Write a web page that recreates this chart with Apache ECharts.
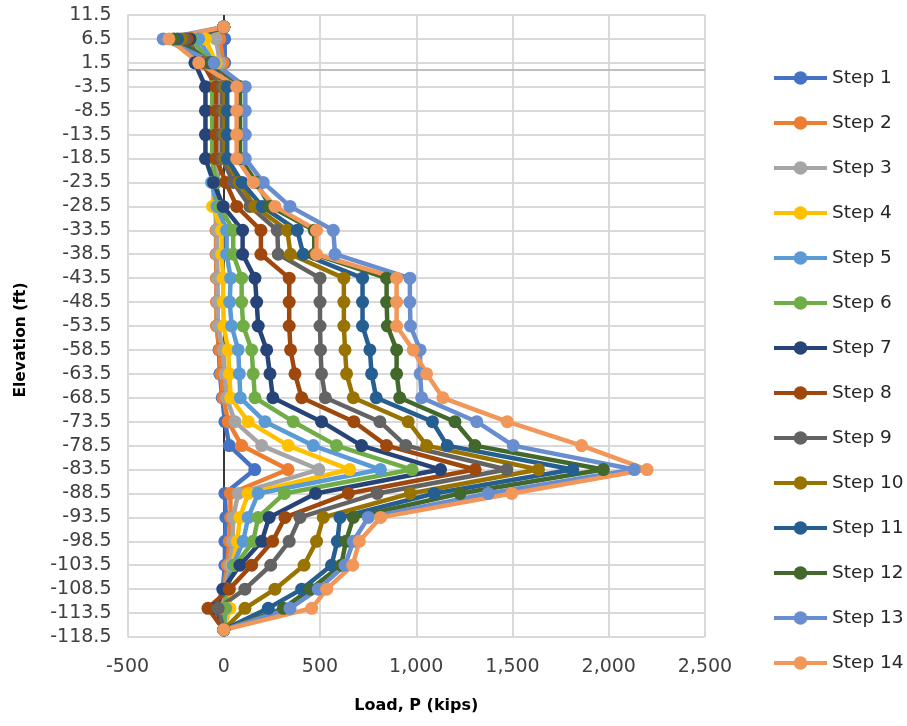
<!DOCTYPE html>
<html><head><meta charset="utf-8">
<script src="https://cdn.jsdelivr.net/npm/echarts@6/dist/echarts.min.js"></script>
<style>html,body{margin:0;padding:0;background:#fff}#c{width:907px;height:726px}</style>
</head><body><div id="c"></div>
<script>
// Elevations (ft) of the data points, top to bottom
const elevations = [9, 6.5, 1.5, -3.5, -8.5, -13.5, -18.5, -23.5, -28.5, -33.5, -38.5, -43.5, -48.5, -53.5, -58.5, -63.5, -68.5, -73.5, -78.5, -83.5, -88.5, -93.5, -98.5, -103.5, -108.5, -112.5, -117];

const stepNames = ['Step 1','Step 2','Step 3','Step 4','Step 5','Step 6','Step 7','Step 8','Step 9','Step 10','Step 11','Step 12','Step 13','Step 14'];

// Load P (kips) per step, aligned with elevations
const step1  = [0, 5, 5, -15, -15, -15, -15, -40, -40, -38, -38, -35, -35, -35, -25, -20, -8, 6, 29, 161, 6, 11, 6, 6, -5, -20, 0];
const step2  = [0, -20, -3, -20, -20, -20, -20, -45, -42, -40, -40, -38, -38, -38, -22, -15, -3, 23, 93, 334, 34, 36, 29, 18, 0, -10, 0];
const step3  = [0, -40, -20, -25, -25, -25, -25, -45, -42, -35, -35, -32, -32, -30, -3, 6, 15, 58, 197, 494, 75, 49, 46, 30, 10, 0, 0];
const step4  = [0, -95, -40, -55, -55, -55, -55, -50, -58, -11, -11, -3, -3, 0, 23, 29, 36, 127, 335, 654, 127, 84, 70, 45, 20, 32, 0];
const step5  = [0, -130, -55, -50, -50, -50, -50, -63, -35, 15, 15, 36, 31, 41, 75, 81, 86, 214, 465, 814, 179, 127, 101, 49, 10, 10, 0];
const step6  = [0, -165, -70, -60, -60, -60, -60, -40, -20, 49, 49, 93, 93, 101, 145, 153, 162, 361, 586, 978, 315, 179, 153, 60, 15, 5, 0];
const step7  = [0, -175, -150, -95, -95, -95, -95, -53, -3, 98, 98, 162, 171, 179, 223, 240, 255, 508, 716, 1126, 477, 236, 197, 84, -3, -40, 0];
const step8  = [0, -190, -110, -40, -40, -40, -40, 11, 67, 193, 193, 340, 340, 340, 347, 370, 405, 676, 846, 1306, 647, 318, 254, 145, 29, -82, 0];
const step9  = [0, -205, -90, -8, -8, -8, -8, 50, 136, 278, 283, 500, 500, 500, 503, 508, 528, 811, 946, 1471, 797, 396, 340, 244, 110, -29, 0];
const step10 = [0, -220, -80, 5, 5, 5, 5, 80, 160, 330, 347, 624, 624, 624, 630, 638, 673, 958, 1054, 1635, 969, 517, 482, 417, 266, 110, 0];
const step11 = [0, -240, -70, 18, 18, 18, 18, 95, 200, 382, 413, 721, 721, 721, 759, 768, 792, 1084, 1161, 1813, 1093, 604, 590, 560, 405, 231, 0];
const step12 = [0, -260, -60, 85, 85, 85, 85, 170, 240, 470, 470, 846, 846, 850, 898, 898, 914, 1201, 1305, 1972, 1227, 673, 635, 610, 450, 310, 0];
const step13 = [0, -315, -50, 112, 112, 112, 112, 205, 344, 569, 578, 967, 967, 970, 1020, 1020, 1028, 1314, 1504, 2133, 1374, 751, 673, 630, 491, 344, 0];
const step14 = [0, -285, -130, 67, 67, 67, 67, 153, 266, 482, 482, 898, 898, 898, 984, 1054, 1138, 1473, 1859, 2199, 1496, 815, 704, 670, 535, 457, 0];

const stepValues = [step1, step2, step3, step4, step5, step6, step7, step8, step9, step10, step11, step12, step13, step14];

const colors = ['#4472C4','#ED7D31','#A5A5A5','#FFC000','#5B9BD5','#70AD47','#264478','#9E480E','#636363','#997300','#255E91','#43682B','#698ED0','#F1975A'];

const FONT = 'DejaVu Sans';

const series = stepNames.map((name, k) => {
  const s = {
    name: name,
    type: 'line',
    data: elevations.map((e, i) => [stepValues[k][i], e]),
    symbol: 'circle',
    symbolSize: 13,
    showSymbol: true,
    lineStyle: { width: 4.5, color: colors[k] },
    itemStyle: { color: colors[k] },
    z: 3,
    animation: false
  };
  if (k === 0) {
    s.markLine = {
      silent: true,
      symbol: 'none',
      z: 1,
      label: { show: false },
      animation: false,
      data: [
        { xAxis: 0, lineStyle: { color: '#000000', width: 1.5, type: 'solid' } },
        { yAxis: 0, lineStyle: { color: '#BFBFBF', width: 2, type: 'solid' } }
      ]
    };
  }
  return s;
});

const chart = echarts.init(document.getElementById('c'));
chart.setOption({
  animation: false,
  backgroundColor: '#ffffff',
  color: colors,
  grid: { left: 127.5, top: 15, width: 577.5, height: 622, containLabel: false },
  xAxis: {
    type: 'value',
    min: -500, max: 2500, interval: 500,
    axisLine: { show: false },
    axisTick: { show: false },
    splitLine: { show: true, lineStyle: { color: '#D9D9D9', width: 2 } },
    axisLabel: {
      margin: 21,
      fontFamily: FONT, fontSize: 19, color: '#404040',
      formatter: v => v.toLocaleString('en-US')
    },
    name: 'Load, P (kips)',
    nameLocation: 'middle',
    nameGap: 61,
    nameTextStyle: { fontFamily: FONT, fontSize: 16, fontWeight: 'bold', color: '#000' }
  },
  yAxis: {
    type: 'value',
    min: -118.5, max: 11.5, interval: 5,
    axisLine: { show: false },
    axisTick: { show: false },
    splitLine: { show: true, lineStyle: { color: '#D9D9D9', width: 2 } },
    axisLabel: {
      margin: 16,
      fontFamily: FONT, fontSize: 19, color: '#404040',
      formatter: v => (Math.round(v * 10) / 10).toFixed(1)
    }
  },
  legend: {
    orient: 'vertical',
    left: 772,
    top: 68,
    padding: 0,
    itemWidth: 53,
    itemHeight: 17,
    itemGap: 25,
    data: stepNames,
    lineStyle: { width: 4 },
    textStyle: { fontFamily: FONT, fontSize: 18.5, color: '#262626', lineHeight: 20 }
  },
  graphic: [{
    type: 'text',
    x: 21, y: 340,
    rotation: Math.PI / 2,
    style: {
      text: 'Elevation (ft)',
      fontFamily: FONT, fontSize: 15.5, fontWeight: 'bold', fill: '#000',
      align: 'center', verticalAlign: 'middle'
    }
  }],
  series: series
});
</script>
</body></html>
